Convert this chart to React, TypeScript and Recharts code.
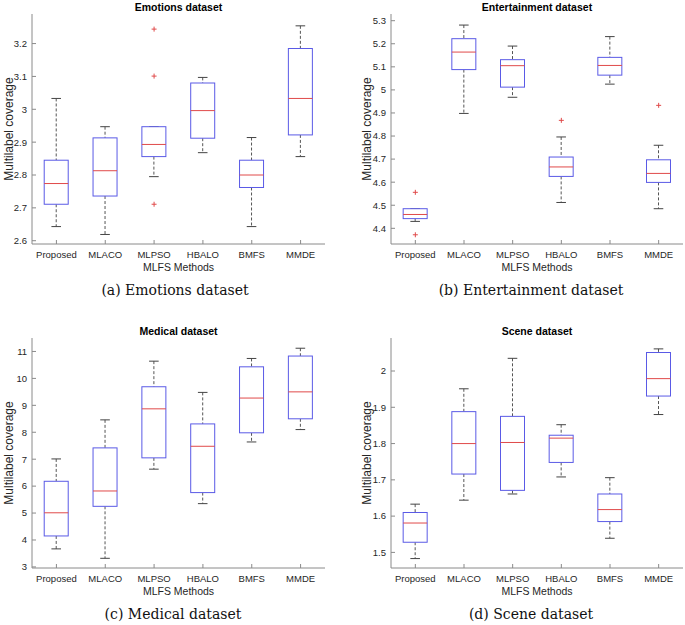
import { Bar, ComposedChart, Label, Scatter, XAxis, YAxis } from "recharts";

const methods = ["Proposed", "MLACO", "MLPSO", "HBALO", "BMFS", "MMDE"];

// one row per method: [lower whisker, Q1, median, Q3, upper whisker]
const emotionsBoxes = [
  [2.643, 2.711, 2.774, 2.845, 3.033],
  [2.619, 2.736, 2.813, 2.913, 2.947],
  [2.795, 2.856, 2.893, 2.947, 2.947],
  [2.868, 2.912, 2.996, 3.08, 3.097],
  [2.643, 2.762, 2.8, 2.845, 2.914],
  [2.856, 2.922, 3.033, 3.185, 3.254],
];
const emotionsOutliers = [[], [], [3.244, 3.101, 2.711], [], [], []];
const emotionsTicks = [2.6, 2.7, 2.8, 2.9, 3, 3.1, 3.2];

const entertainmentBoxes = [
  [4.43, 4.442, 4.46, 4.485, 4.485],
  [4.898, 5.088, 5.164, 5.222, 5.281],
  [4.968, 5.012, 5.105, 5.131, 5.19],
  [4.512, 4.625, 4.666, 4.709, 4.796],
  [5.025, 5.064, 5.106, 5.141, 5.231],
  [4.485, 4.599, 4.638, 4.697, 4.76],
];
const entertainmentOutliers = [[4.556, 4.372], [], [], [4.868], [], [4.933]];
const entertainmentTicks = [4.4, 4.5, 4.6, 4.7, 4.8, 4.9, 5, 5.1, 5.2, 5.3];

const medicalBoxes = [
  [3.67, 4.15, 5.01, 6.18, 7.01],
  [3.32, 5.25, 5.82, 7.42, 8.46],
  [6.63, 7.05, 8.87, 9.69, 10.64],
  [5.35, 5.76, 7.48, 8.31, 9.48],
  [7.64, 7.98, 9.27, 10.43, 10.74],
  [8.1, 8.5, 9.5, 10.83, 11.12],
];
const medicalOutliers = [[], [], [], [], [], []];
const medicalTicks = [3, 4, 5, 6, 7, 8, 9, 10, 11];

const sceneBoxes = [
  [1.483, 1.528, 1.581, 1.61, 1.633],
  [1.644, 1.716, 1.8, 1.888, 1.951],
  [1.661, 1.671, 1.803, 1.875, 2.035],
  [1.708, 1.748, 1.815, 1.823, 1.852],
  [1.539, 1.585, 1.618, 1.661, 1.706],
  [1.88, 1.931, 1.979, 2.051, 2.061],
];
const sceneOutliers = [[], [], [], [], [], []];
const sceneTicks = [1.5, 1.6, 1.7, 1.8, 1.9, 2];

const SANS = "'Liberation Sans', Arial, Helvetica, sans-serif";
const AXIS = "#8a8a8a";
const TEXT = "#262626";

function buildRows(boxes: number[][], outliers: number[][]) {
  return methods.map((name, i) => {
    const [lo, q1, med, q3, hi] = boxes[i];
    const o = outliers[i];
    return { name, lo, q1, med, q3, hi, o1: o[0] ?? null, o2: o[1] ?? null, o3: o[2] ?? null };
  });
}

function BoxShape(props: any) {
  const { x, y, width, height, payload } = props;
  const top = Math.min(y, y + height);
  const bottom = Math.max(y, y + height);
  const span = payload.hi - payload.lo;
  // linear map inside the bar's own pixel range (lo..hi)
  const py = (v: number) => (span === 0 ? top : bottom - ((v - payload.lo) / span) * (bottom - top));
  const cx = x + width / 2;
  const cap = width * 0.2;
  const yq1 = py(payload.q1);
  const yq3 = py(payload.q3);
  const ymed = py(payload.med);
  return (
    <g>
      <line x1={cx} x2={cx} y1={top} y2={yq3} stroke="#555" strokeDasharray="3 2" />
      <line x1={cx} x2={cx} y1={yq1} y2={bottom} stroke="#555" strokeDasharray="3 2" />
      <line x1={cx - cap} x2={cx + cap} y1={top} y2={top} stroke="#444" />
      <line x1={cx - cap} x2={cx + cap} y1={bottom} y2={bottom} stroke="#444" />
      <rect x={x} y={yq3} width={width} height={Math.max(yq1 - yq3, 0.5)} fill="#fff" stroke="#5a5ae6" />
      <line x1={x} x2={x + width} y1={ymed} y2={ymed} stroke="#e04a4a" />
    </g>
  );
}

function PlusShape(props: any) {
  const { cx, cy } = props;
  if (cx == null || cy == null || !isFinite(cx) || !isFinite(cy)) return <g />;
  const r = 2.5;
  return (
    <g stroke="#e04a4a" strokeWidth={1}>
      <line x1={cx - r} x2={cx + r} y1={cy} y2={cy} />
      <line x1={cx} x2={cx} y1={cy - r} y2={cy + r} />
    </g>
  );
}

type PanelProps = {
  left: number;
  top: number;
  yAxisWidth: number;
  rightMargin: number;
  plotTop: number;
  plotBottom: number;
  labelX: number;
  title: string;
  boxes: number[][];
  outliers: number[][];
  domain: [number, number];
  ticks: number[];
};

function Panel(p: PanelProps) {
  const rows = buildRows(p.boxes, p.outliers);
  const width = 345;
  const height = p.plotBottom + 56;
  const plotLeft = p.yAxisWidth;
  const plotRight = width - p.rightMargin;
  const midY = (p.plotTop + p.plotBottom) / 2;
  const tickStyle = { fontSize: 9.5, fill: TEXT, fontFamily: SANS };
  return (
    <div style={{ position: "absolute", left: p.left, top: p.top, width, height }}>
      <div
        style={{
          position: "absolute",
          left: (plotLeft + plotRight) / 2 - 150,
          width: 300,
          top: p.plotTop - 14,
          lineHeight: "14px",
          textAlign: "center",
          fontFamily: SANS,
          fontWeight: "bold",
          fontSize: 10.5,
          color: "#000",
        }}
      >
        {p.title}
      </div>
      <ComposedChart
        width={width}
        height={height}
        data={rows}
        margin={{ top: p.plotTop, right: p.rightMargin, bottom: 16, left: 0 }}
        barCategoryGap="25%"
      >
        <XAxis
          dataKey="name"
          height={40}
          interval={0}
          tickSize={-4}
          tickMargin={11}
          axisLine={{ stroke: AXIS }}
          tickLine={{ stroke: AXIS }}
          tick={tickStyle}
        >
          <Label value="MLFS Methods" position="insideBottom" offset={13} style={{ fontSize: 10.5, fill: TEXT, fontFamily: SANS }} />
        </XAxis>
        <XAxis
          xAxisId="top"
          orientation="top"
          dataKey="name"
          height={0}
          interval={0}
          tickSize={-4}
          axisLine={{ stroke: AXIS }}
          tickLine={{ stroke: AXIS }}
          tick={false}
        />
        <YAxis
          type="number"
          domain={p.domain}
          ticks={p.ticks}
          allowDataOverflow
          interval={0}
          width={p.yAxisWidth}
          tickSize={-4}
          tickMargin={9}
          tickFormatter={(v: number) => String(v)}
          axisLine={{ stroke: AXIS }}
          tickLine={{ stroke: AXIS }}
          tick={tickStyle}
        >
          <Label
            content={() => (
              <text
                x={p.labelX}
                y={midY}
                transform={`rotate(-90 ${p.labelX} ${midY})`}
                textAnchor="middle"
                dominantBaseline="central"
                style={{ fontSize: 12, fill: TEXT, fontFamily: SANS }}
              >
                Multilabel coverage
              </text>
            )}
          />
        </YAxis>
        <YAxis
          yAxisId="right"
          orientation="right"
          type="number"
          domain={p.domain}
          ticks={p.ticks}
          allowDataOverflow
          interval={0}
          width={0}
          tickSize={-4}
          axisLine={{ stroke: AXIS }}
          tickLine={{ stroke: AXIS }}
          tick={false}
        />
        <Bar dataKey={(r: any) => [r.lo, r.hi]} shape={BoxShape} isAnimationActive={false} />
        <Scatter dataKey="o1" shape={PlusShape} isAnimationActive={false} />
        <Scatter dataKey="o2" shape={PlusShape} isAnimationActive={false} />
        <Scatter dataKey="o3" shape={PlusShape} isAnimationActive={false} />
      </ComposedChart>
    </div>
  );
}

function Caption({ x, y, text }: { x: number; y: number; text: string }) {
  return (
    <div
      style={{
        position: "absolute",
        left: x - 150,
        width: 300,
        top: y - 9,
        lineHeight: "18px",
        textAlign: "center",
        fontFamily: "'DejaVu Serif', serif",
        fontSize: 14,
        color: "#111",
      }}
    >
      {text}
    </div>
  );
}

export default function App() {
  return (
    <div style={{ position: "absolute", left: 0, top: 0, width: 685, height: 625, background: "#fff", overflow: "hidden" }}>
      <Panel
        left={0}
        top={0}
        yAxisWidth={32}
        rightMargin={20}
        plotTop={14}
        plotBottom={244}
        labelX={9}
        title="Emotions dataset"
        boxes={emotionsBoxes}
        outliers={emotionsOutliers}
        domain={[2.59, 3.29]}
        ticks={emotionsTicks}
      />
      <Panel
        left={340}
        top={0}
        yAxisWidth={51}
        rightMargin={2}
        plotTop={14}
        plotBottom={244}
        labelX={27}
        title="Entertainment dataset"
        boxes={entertainmentBoxes}
        outliers={entertainmentOutliers}
        domain={[4.332, 5.329]}
        ticks={entertainmentTicks}
      />
      <Panel
        left={0}
        top={310}
        yAxisWidth={32}
        rightMargin={20}
        plotTop={28}
        plotBottom={258}
        labelX={9}
        title="Medical dataset"
        boxes={medicalBoxes}
        outliers={medicalOutliers}
        domain={[2.96, 11.5]}
        ticks={medicalTicks}
      />
      <Panel
        left={340}
        top={310}
        yAxisWidth={51}
        rightMargin={2}
        plotTop={28}
        plotBottom={258}
        labelX={27}
        title="Scene dataset"
        boxes={sceneBoxes}
        outliers={sceneOutliers}
        domain={[1.457, 2.091]}
        ticks={sceneTicks}
      />
      <Caption x={175} y={290} text="(a) Emotions dataset" />
      <Caption x={531} y={290} text="(b) Entertainment dataset" />
      <Caption x={173} y={614} text="(c) Medical dataset" />
      <Caption x={531} y={614} text="(d) Scene dataset" />
    </div>
  );
}
